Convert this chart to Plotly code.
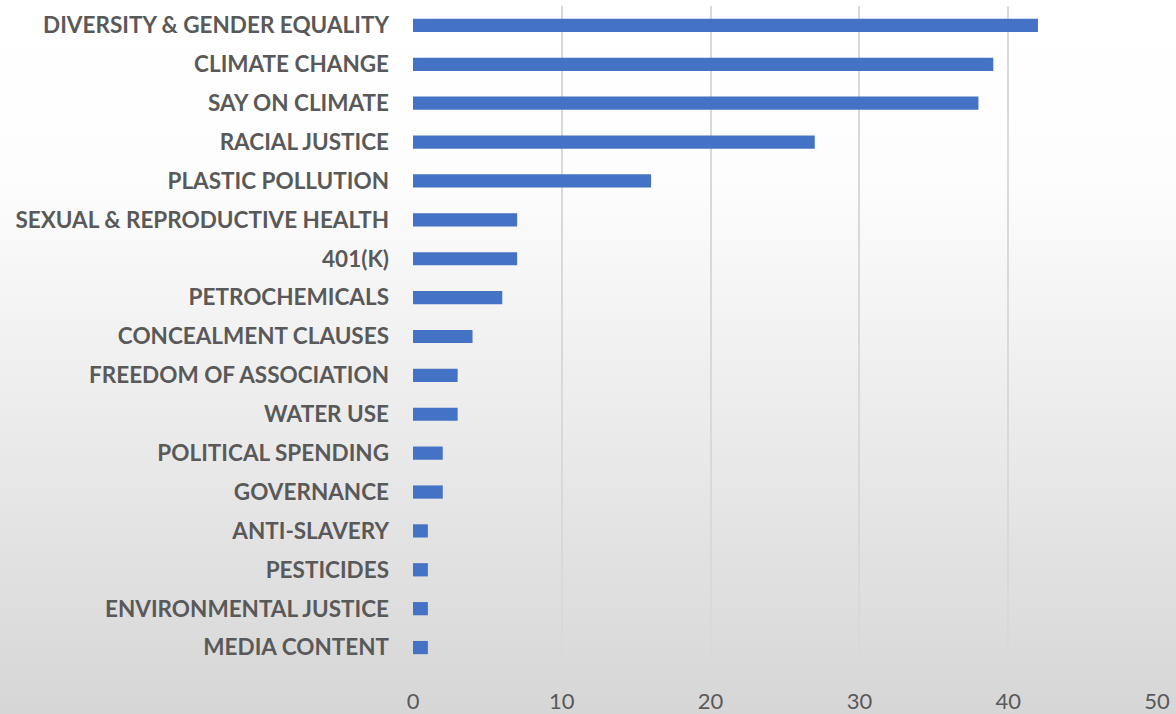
import base64
import plotly.graph_objects as go

# Shareholder proposal topics and their counts (top to bottom as displayed)
topics = [
    "DIVERSITY & GENDER EQUALITY",
    "CLIMATE CHANGE",
    "SAY ON CLIMATE",
    "RACIAL JUSTICE",
    "PLASTIC POLLUTION",
    "SEXUAL & REPRODUCTIVE HEALTH",
    "401(K)",
    "PETROCHEMICALS",
    "CONCEALMENT CLAUSES",
    "FREEDOM OF ASSOCIATION",
    "WATER USE",
    "POLITICAL SPENDING",
    "GOVERNANCE",
    "ANTI-SLAVERY",
    "PESTICIDES",
    "ENVIRONMENTAL JUSTICE",
    "MEDIA CONTENT",
]
counts = [42, 39, 38, 27, 16, 7, 7, 6, 4, 3, 3, 2, 2, 1, 1, 1, 1]
x_ticks = [0, 10, 20, 30, 40, 50]

W, H = 1176, 714
ML, MR, MT, MB = 413, 19, 6, 47
pw, ph = W - ML - MR, H - MT - MB

# Vertical white-to-grey backdrop as an SVG gradient
svg = (
    '<svg xmlns="http://www.w3.org/2000/svg" width="100" height="100" preserveAspectRatio="none">'
    '<defs><linearGradient id="g" x1="0" y1="0" x2="0" y2="1">'
    '<stop offset="0" stop-color="#ffffff"/>'
    '<stop offset="0.25" stop-color="#fdfdfd"/>'
    '<stop offset="1" stop-color="#d7d6d7"/>'
    '</linearGradient></defs>'
    '<rect width="100" height="100" fill="url(#g)"/></svg>'
)
bg_src = "data:image/svg+xml;base64," + base64.b64encode(svg.encode()).decode()

fig = go.Figure(
    go.Bar(
        x=counts,
        y=topics,
        orientation="h",
        marker=dict(color="#4472C4", line=dict(width=0)),
        width=0.34,
    )
)

fig.update_layout(
    width=W,
    height=H,
    margin=dict(l=ML, r=MR, t=MT, b=MB, autoexpand=False),
    paper_bgcolor="white",
    plot_bgcolor="rgba(0,0,0,0)",
    showlegend=False,
    font=dict(family="Lato, 'Open Sans', sans-serif", color="#595959"),
    images=[
        dict(
            source=bg_src,
            xref="paper",
            yref="paper",
            x=-ML / pw,
            y=1 + MT / ph,
            sizex=W / pw,
            sizey=H / ph,
            sizing="stretch",
            xanchor="left",
            yanchor="top",
            layer="below",
        )
    ],
)

fig.update_xaxes(
    range=[0, 50],
    tickvals=x_ticks,
    ticktext=[str(v) for v in x_ticks],
    showgrid=True,
    gridcolor="#d9d9d9",
    gridwidth=1.5,
    zeroline=False,
    showline=False,
    ticks="",
    automargin=False,
    tickfont=dict(size=22, color="#595959"),
    ticklabelstandoff=19,
)

fig.update_yaxes(
    categoryorder="array",
    categoryarray=topics[::-1],
    showgrid=False,
    zeroline=False,
    showline=False,
    ticks="",
    automargin=False,
    tickfont=dict(size=22.5, color="#595959", weight="bold"),
    ticklabelstandoff=23,
)

fig.write_html("out.html")
